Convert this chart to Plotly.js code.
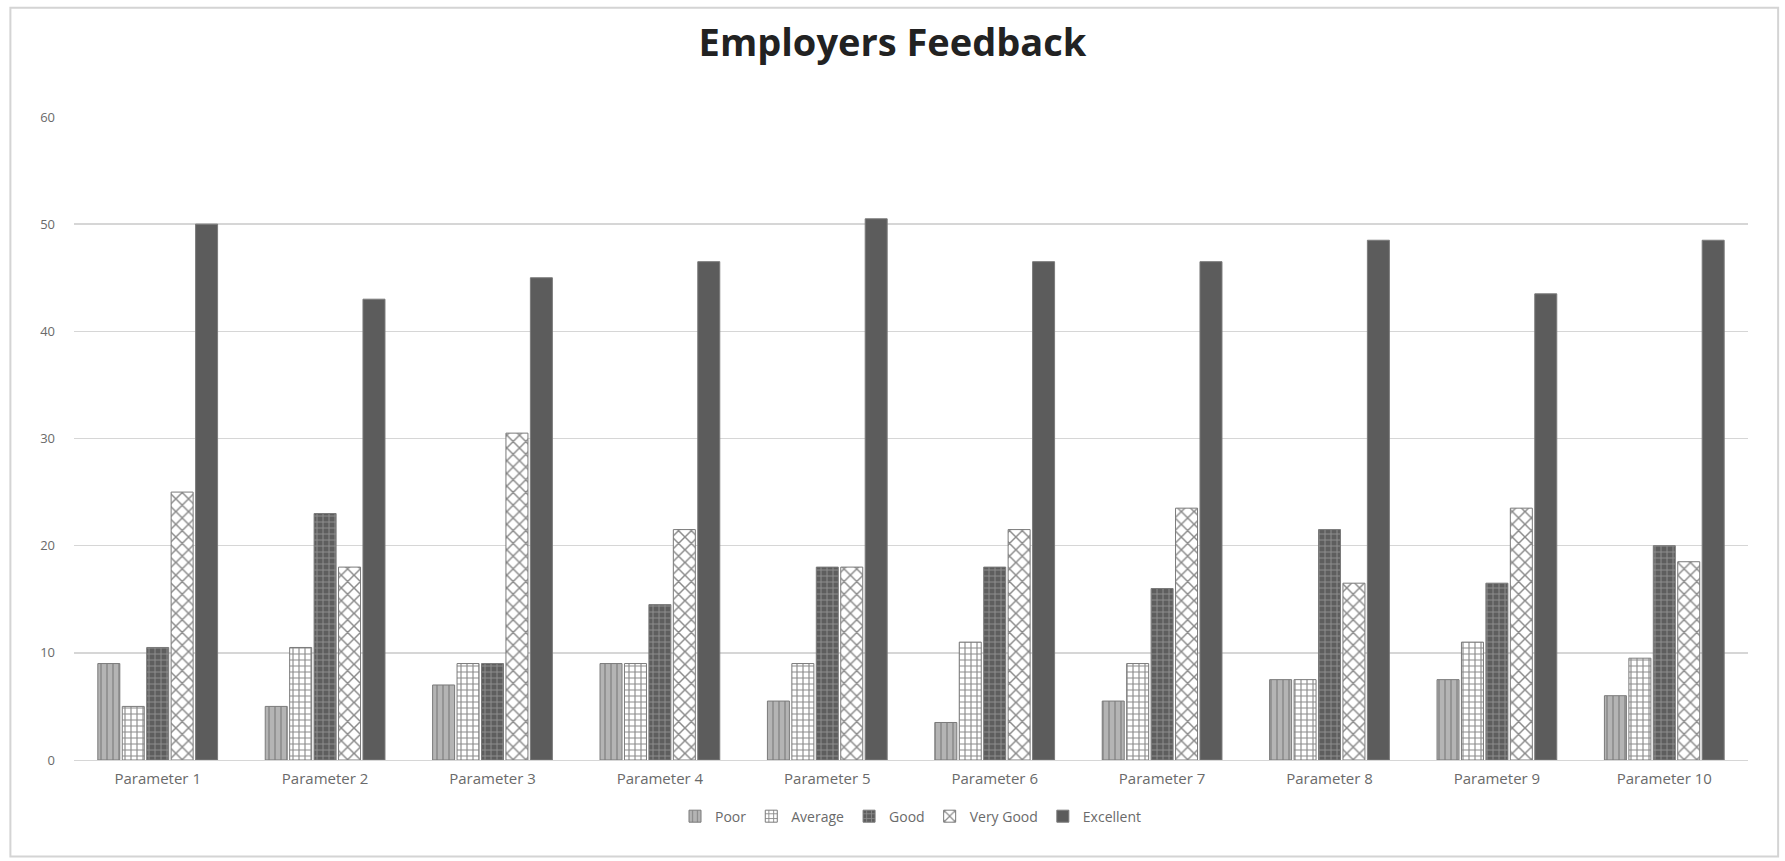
<!DOCTYPE html>
<html>
<head>
<meta charset="utf-8">
<script src="https://cdn.plot.ly/plotly-3.0.1.min.js"></script>
<style>
  html, body { margin: 0; padding: 0; background: #ffffff; }
  #chart { width: 1785px; height: 861px; }
</style>
</head>
<body>
<div id="chart"></div>
<script>
const categories = ["Parameter 1","Parameter 2","Parameter 3","Parameter 4","Parameter 5","Parameter 6","Parameter 7","Parameter 8","Parameter 9","Parameter 10"];
const seriesNames = ["Poor","Average","Good","Very Good","Excellent"];
const poor      = [9, 5, 7, 9, 5.5, 3.5, 5.5, 7.5, 7.5, 6];
const average   = [5, 10.5, 9, 9, 9, 11, 9, 7.5, 11, 9.5];
const good      = [10.5, 23, 9, 14.5, 18, 18, 16, 21.5, 16.5, 20];
const veryGood  = [25, 18, 30.5, 21.5, 18, 21.5, 23.5, 16.5, 23.5, 18.5];
const excellent = [50, 43, 45, 46.5, 50.5, 46.5, 46.5, 48.5, 43.5, 48.5];
const yTicks = [0, 10, 20, 30, 40, 50, 60];

const values = [poor, average, good, veryGood, excellent];
const styles = [
  {color: "#a8a8a8", pattern: {shape: "|", bgcolor: "#b4b4b4", fgcolor: "#8a8a8a", size: 6, solidity: 0.25}},
  {color: "#ffffff", pattern: {shape: "+", bgcolor: "#ffffff", fgcolor: "#8c8c8c", size: 6, solidity: 0.35}},
  {color: "#6a6a6a", pattern: {shape: "+", bgcolor: "#5e5e5e", fgcolor: "#8e8e8e", size: 6, solidity: 0.3}},
  {color: "#ffffff", pattern: {shape: "x", bgcolor: "#ffffff", fgcolor: "#8a8a8a", size: 9, solidity: 0.3}},
  {color: "#5c5c5c", pattern: {shape: ""}}
];

const traces = seriesNames.map((name, i) => ({
  type: "bar",
  name: name,
  x: categories,
  y: values[i],
  marker: {
    color: styles[i].color,
    pattern: styles[i].pattern,
    line: {color: "#7a7a7a", width: 1}
  },
  hoverinfo: "x+y+name"
}));

const layout = {
  width: 1785,
  height: 861,
  paper_bgcolor: "#ffffff",
  plot_bgcolor: "#ffffff",
  font: {family: "Open Sans, Noto Sans, sans-serif", color: "#595959"},
  title: {
    text: "<b>Employers Feedback</b>",
    font: {family: "Open Sans, sans-serif", size: 38, color: "#222222"},
    x: 0.5, xanchor: "center",
    y: 0.95, yanchor: "middle", yref: "container"
  },
  margin: {l: 74, r: 37, t: 117, b: 101},
  barmode: "group",
  bargap: 0.27,
  bargroupgap: 0.1,
  xaxis: {
    type: "category",
    showgrid: false,
    showline: false,
    ticks: "",
    tickfont: {size: 15, color: "#6a6a6a"},
    ticklabelstandoff: 8
  },
  yaxis: {
    range: [0, 60],
    tickvals: yTicks,
    ticktext: yTicks.map(String),
    showgrid: true,
    gridcolor: "#d6d6d6",
    gridwidth: 1.5,
    zeroline: true,
    zerolinecolor: "#d6d6d6",
    showline: false,
    ticks: "",
    tickfont: {size: 13, color: "#6a6a6a"},
    ticklabelstandoff: 18
  },
  legend: {
    orientation: "h",
    x: 0.5, xanchor: "center",
    y: -0.088, yanchor: "middle",
    font: {size: 14, color: "#6a6a6a"},
    itemwidth: 30,
    traceorder: "normal"
  },
  shapes: [{
    type: "rect", xref: "paper", yref: "paper",
    x0: -0.038, x1: 1.018, y0: -0.15, y1: 1.17,
    line: {color: "#d4d4d4", width: 2},
    fillcolor: "rgba(0,0,0,0)", layer: "below"
  }],
  showlegend: true
};

Plotly.newPlot("chart", traces, layout, {displayModeBar: false, staticPlot: true});
</script>
</body>
</html>
